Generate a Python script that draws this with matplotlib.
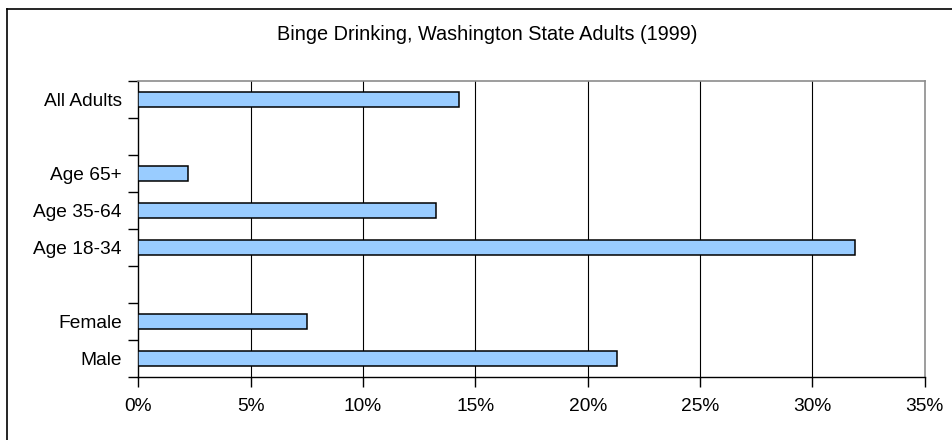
import numpy as np
import matplotlib.pyplot as plt
from matplotlib.ticker import FixedLocator, PercentFormatter

plt.rcParams['font.family'] = ['Liberation Sans', 'DejaVu Sans']

# rows from top to bottom; blank rows are spacers between groups
categories = ["All Adults", "", "Age 65+", "Age 35-64", "Age 18-34", "", "Female", "Male"]
values = [14.25, np.nan, 2.2, 13.25, 31.9, np.nan, 7.5, 21.3]
title = "Binge Drinking, Washington State Adults (1999)"

fig = plt.figure(figsize=(9.52, 4.4), dpi=100)
ax = fig.add_axes([138.4 / 952, 1 - 377 / 440, (924.7 - 138.4) / 952, (377 - 81) / 440])

pos = np.arange(len(categories))
ax.barh(pos, values, height=0.4, color="#99CCFF", edgecolor="black", linewidth=1.1, zorder=3)

ax.set_xlim(0, 35)
ax.set_ylim(len(categories) - 0.5, -0.5)
ax.set_xticks(np.arange(0, 36, 5))
ax.xaxis.set_major_formatter(PercentFormatter(decimals=0))
ax.set_yticks(pos)
ax.set_yticklabels(categories)
ax.yaxis.set_minor_locator(FixedLocator(np.arange(-0.5, len(categories), 1)))

ax.tick_params(axis="y", which="major", length=0, pad=12, labelsize=13.8)
ax.tick_params(axis="y", which="minor", length=7, width=1, direction="out")
ax.tick_params(axis="x", length=7, width=1, direction="out", pad=8, labelsize=13.8)

# vertical gridlines
for x in np.arange(5, 35, 5):
    ax.axvline(x, color="black", linewidth=0.8, zorder=1)

for s in ["top", "right"]:
    ax.spines[s].set_color("#8c8c8c")
    ax.spines[s].set_linewidth(1.2)
for s in ["left", "bottom"]:
    ax.spines[s].set_color("black")
    ax.spines[s].set_linewidth(1)

fig.text(487 / 952, 1 - 35 / 440, title, ha="center", va="center", fontsize=14.3)

# outer chart frame (top and left edges visible)
fig.add_artist(plt.Line2D([7 / 952, 1], [1 - 9 / 440, 1 - 9 / 440], color="black", linewidth=1.2))
fig.add_artist(plt.Line2D([7 / 952, 7 / 952], [0, 1 - 9 / 440], color="black", linewidth=1.2))

fig.savefig("out.png", dpi=100)
